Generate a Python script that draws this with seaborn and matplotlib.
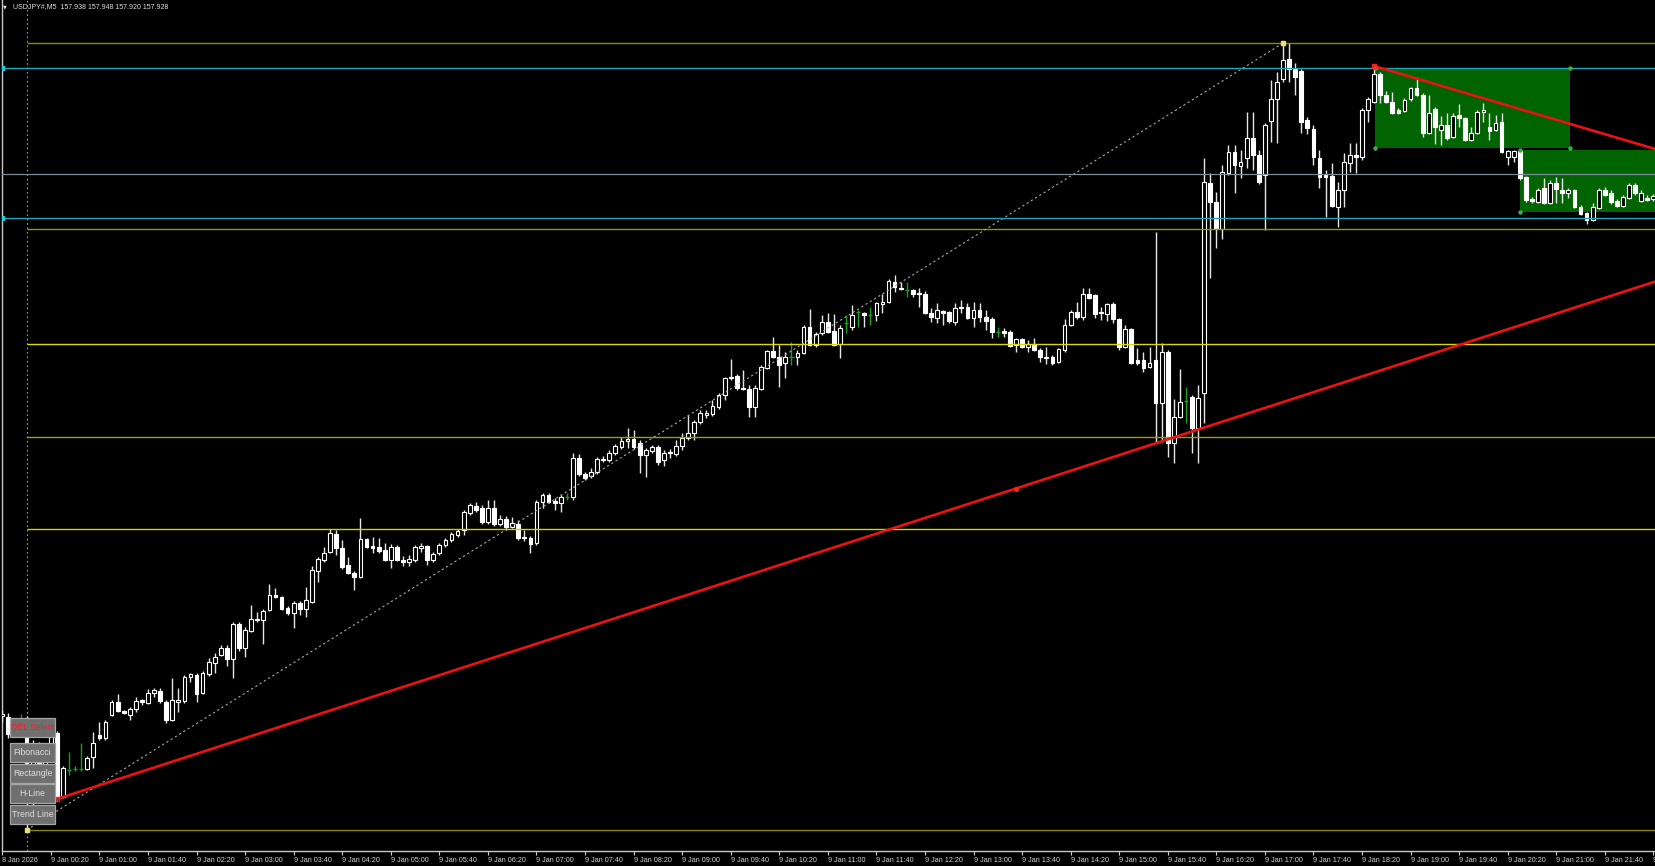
import numpy as np
import pandas as pd
import seaborn as sns
import matplotlib
matplotlib.use('Agg')
from matplotlib import pyplot as plt
from matplotlib.patches import Rectangle

sns.set_style('dark', {'axes.facecolor': 'black', 'figure.facecolor': 'black',
                       'axes.edgecolor': '#c8c8c8', 'text.color': '#d8d8d8',
                       'xtick.color': '#c8c8c8', 'xtick.bottom': True})
plt.rcParams['font.family'] = ['Liberation Sans', 'DejaVu Sans']

# ---- chart data (M5 bars, first bar = 8 Jan 23:40) ----
symbol = 'USDJPY#,M5'
quote = [157.938, 157.948, 157.920, 157.928]
first_time = '2026-01-08 23:40'
first_bar = -4

opens = [156.843, 156.841, 156.809, 156.837, 156.835, 156.695, 156.785, 156.735, 156.775, 156.809,
         156.681, 156.735, 156.737, 156.737, 156.737, 156.761, 156.805, 156.799, 156.845, 156.871,
         156.853, 156.845, 156.857, 156.875, 156.869, 156.889, 156.893, 156.871, 156.835, 156.871,
         156.873, 156.921, 156.925, 156.889, 156.927, 156.949, 156.965, 156.979, 156.957, 157.027,
         156.979, 157.013, 157.035, 157.035, 157.055, 157.085, 157.081, 157.059, 157.049, 157.069,
         157.057, 157.071, 157.133, 157.155, 157.171, 157.207, 157.179, 157.145, 157.129, 157.121,
         157.197, 157.183, 157.181, 157.175, 157.155, 157.181, 157.155, 157.151, 157.155, 157.179,
         157.183, 157.155, 157.169, 157.185, 157.195, 157.205, 157.215, 157.249, 157.263, 157.259,
         157.231, 157.259, 157.227, 157.237, 157.221, 157.227, 157.201, 157.199, 157.189, 157.271,
         157.285, 157.273, 157.269, 157.281, 157.281, 157.359, 157.327, 157.323, 157.331, 157.355,
         157.355, 157.369, 157.381, 157.393, 157.397, 157.389, 157.365, 157.373, 157.381, 157.355,
         157.371, 157.367, 157.383, 157.399, 157.409, 157.431, 157.445, 157.447, 157.461, 157.485,
         157.519, 157.523, 157.499, 157.497, 157.461, 157.497, 157.539, 157.573, 157.561, 157.549,
         157.561, 157.561, 157.569, 157.621, 157.585, 157.609, 157.631, 157.613, 157.587, 157.629,
         157.621, 157.651, 157.649, 157.645, 157.645, 157.667, 157.671, 157.711, 157.699, 157.695,
         157.695, 157.689, 157.687, 157.649, 157.639, 157.653, 157.651, 157.631, 157.661, 157.661,
         157.639, 157.655, 157.641, 157.637, 157.611, 157.613, 157.611, 157.585, 157.597, 157.581,
         157.587, 157.575, 157.561, 157.561, 157.551, 157.575, 157.625, 157.651, 157.641, 157.687,
         157.685, 157.651, 157.647, 157.667, 157.637, 157.581, 157.617, 157.555, 157.555, 157.541,
         157.555, 157.469, 157.571, 157.389, 157.441, 157.473, 157.481, 157.419, 157.489, 157.909,
         157.871, 157.817, 157.929, 157.971, 157.943, 157.959, 157.999, 157.965, 157.925, 158.033,
         158.077, 158.117, 158.157, 158.137, 158.133, 158.035, 158.017, 157.959, 157.925, 157.923,
         157.861, 157.895, 157.949, 157.965, 157.961, 158.055, 158.071, 158.127, 158.085, 158.071,
         158.055, 158.053, 158.077, 158.099, 158.085, 158.009, 158.057, 158.015, 158.025, 158.001,
         158.045, 158.039, 157.995, 158.009, 158.051, 158.021, 158.015, 158.031, 157.961, 157.961,
         157.973, 157.921, 157.877, 157.871, 157.899, 157.869, 157.909, 157.895, 157.889, 157.895,
         157.861, 157.849, 157.835, 157.859, 157.895, 157.889, 157.873, 157.863, 157.879, 157.905,
         157.873, 157.879, 157.877]

highs = [156.855, 156.849, 156.839, 156.847, 156.843, 156.795, 156.791, 156.779, 156.819, 156.813,
         156.743, 156.771, 156.743, 156.789, 156.763, 156.811, 156.831, 156.835, 156.875, 156.887,
         156.855, 156.861, 156.881, 156.877, 156.897, 156.899, 156.899, 156.875, 156.919, 156.899,
         156.925, 156.929, 156.929, 156.933, 156.959, 156.969, 156.985, 156.985, 157.031, 157.031,
         157.021, 157.065, 157.051, 157.057, 157.107, 157.099, 157.083, 157.063, 157.073, 157.073,
         157.101, 157.143, 157.161, 157.181, 157.217, 157.215, 157.195, 157.161, 157.133, 157.239,
         157.199, 157.201, 157.199, 157.189, 157.187, 157.185, 157.163, 157.165, 157.185, 157.189,
         157.185, 157.171, 157.189, 157.199, 157.211, 157.217, 157.255, 157.269, 157.271, 157.265,
         157.275, 157.275, 157.245, 157.243, 157.241, 157.235, 157.215, 157.203, 157.275, 157.289,
         157.289, 157.279, 157.285, 157.289, 157.369, 157.367, 157.331, 157.339, 157.361, 157.363,
         157.375, 157.387, 157.401, 157.419, 157.415, 157.395, 157.379, 157.385, 157.385, 157.375,
         157.377, 157.395, 157.409, 157.445, 157.435, 157.455, 157.455, 157.475, 157.489, 157.521,
         157.557, 157.527, 157.535, 157.505, 157.505, 157.545, 157.575, 157.601, 157.585, 157.571,
         157.591, 157.575, 157.625, 157.657, 157.611, 157.645, 157.649, 157.647, 157.625, 157.645,
         157.665, 157.655, 157.651, 157.661, 157.671, 157.687, 157.717, 157.725, 157.711, 157.711,
         157.697, 157.699, 157.693, 157.659, 157.669, 157.655, 157.653, 157.669, 157.675, 157.669,
         157.671, 157.669, 157.655, 157.641, 157.621, 157.619, 157.615, 157.599, 157.599, 157.595,
         157.599, 157.579, 157.581, 157.565, 157.579, 157.637, 157.655, 157.671, 157.699, 157.699,
         157.687, 157.661, 157.669, 157.671, 157.639, 157.625, 157.619, 157.579, 157.571, 157.581,
         157.811, 157.589, 157.575, 157.477, 157.537, 157.501, 157.485, 157.505, 157.959, 157.929,
         157.891, 157.945, 157.985, 157.985, 157.975, 158.051, 158.051, 157.975, 158.029, 158.115,
         158.131, 158.189, 158.189, 158.149, 158.137, 158.041, 158.025, 157.975, 157.935, 157.949,
         157.911, 157.969, 157.989, 157.989, 158.059, 158.081, 158.143, 158.131, 158.093, 158.091,
         158.059, 158.079, 158.101, 158.121, 158.089, 158.085, 158.061, 158.043, 158.049, 158.049,
         158.067, 158.041, 158.021, 158.055, 158.069, 158.049, 158.045, 158.049, 157.975, 157.975,
         157.975, 157.923, 157.881, 157.899, 157.919, 157.915, 157.921, 157.919, 157.899, 157.897,
         157.865, 157.851, 157.869, 157.899, 157.901, 157.895, 157.877, 157.885, 157.909, 157.909,
         157.895, 157.885, 157.887]

lows = [156.831, 156.799, 156.803, 156.827, 156.615, 156.665, 156.705, 156.699, 156.771, 156.675,
        156.679, 156.725, 156.733, 156.733, 156.735, 156.739, 156.795, 156.795, 156.843, 156.851,
        156.847, 156.835, 156.851, 156.865, 156.867, 156.881, 156.869, 156.829, 156.833, 156.851,
        156.869, 156.911, 156.871, 156.887, 156.923, 156.929, 156.963, 156.943, 156.919, 156.973,
        156.961, 157.011, 157.031, 156.987, 157.053, 157.079, 157.055, 157.045, 157.019, 157.045,
        157.041, 157.069, 157.111, 157.151, 157.169, 157.165, 157.137, 157.127, 157.095, 157.119,
        157.179, 157.169, 157.169, 157.153, 157.139, 157.153, 157.143, 157.143, 157.151, 157.171,
        157.145, 157.151, 157.165, 157.181, 157.191, 157.201, 157.205, 157.245, 157.251, 157.227,
        157.227, 157.223, 157.223, 157.215, 157.219, 157.195, 157.193, 157.169, 157.185, 157.259,
        157.269, 157.255, 157.251, 157.275, 157.275, 157.323, 157.315, 157.319, 157.327, 157.351,
        157.351, 157.365, 157.377, 157.379, 157.377, 157.329, 157.321, 157.369, 157.345, 157.343,
        157.359, 157.363, 157.375, 157.395, 157.395, 157.427, 157.439, 157.443, 157.457, 157.475,
        157.515, 157.495, 157.495, 157.441, 157.441, 157.495, 157.537, 157.559, 157.501, 157.519,
        157.545, 157.545, 157.567, 157.583, 157.581, 157.605, 157.609, 157.583, 157.559, 157.609,
        157.615, 157.621, 157.621, 157.625, 157.633, 157.649, 157.669, 157.691, 157.695, 157.681,
        157.681, 157.661, 157.647, 157.631, 157.629, 157.625, 157.629, 157.625, 157.649, 157.637,
        157.621, 157.631, 157.615, 157.599, 157.601, 157.601, 157.581, 157.571, 157.579, 157.571,
        157.573, 157.551, 157.547, 157.545, 157.549, 157.571, 157.623, 157.637, 157.635, 157.677,
        157.639, 157.635, 157.633, 157.629, 157.575, 157.579, 157.547, 157.545, 157.531, 157.539,
        157.391, 157.391, 157.361, 157.349, 157.439, 157.429, 157.369, 157.349, 157.429, 157.719,
        157.779, 157.797, 157.925, 157.889, 157.919, 157.939, 157.935, 157.907, 157.815, 157.991,
        157.989, 158.111, 158.111, 158.085, 158.009, 158.007, 157.945, 157.899, 157.841, 157.861,
        157.821, 157.861, 157.931, 157.929, 157.955, 158.031, 158.069, 158.069, 158.069, 158.047,
        158.047, 158.051, 158.073, 158.083, 158.001, 158.007, 157.987, 157.985, 157.995, 157.999,
        158.021, 157.993, 157.993, 158.007, 158.031, 157.995, 158.013, 157.969, 157.945, 157.951,
        157.915, 157.871, 157.869, 157.869, 157.867, 157.867, 157.869, 157.869, 157.879, 157.859,
        157.845, 157.827, 157.833, 157.857, 157.883, 157.867, 157.861, 157.861, 157.877, 157.885,
        157.871, 157.873, 157.873]

closes = [156.847, 156.807, 156.831, 156.837, 156.695, 156.785, 156.735, 156.775, 156.809, 156.681,
          156.739, 156.735, 156.737, 156.737, 156.759, 156.789, 156.799, 156.831, 156.871, 156.853,
          156.849, 156.857, 156.873, 156.871, 156.889, 156.895, 156.873, 156.835, 156.875, 156.875,
          156.921, 156.927, 156.887, 156.929, 156.951, 156.961, 156.979, 156.957, 157.027, 156.979,
          157.015, 157.037, 157.037, 157.053, 157.085, 157.081, 157.057, 157.049, 157.069, 157.057,
          157.075, 157.135, 157.157, 157.169, 157.209, 157.179, 157.141, 157.129, 157.121, 157.197,
          157.181, 157.179, 157.173, 157.155, 157.181, 157.155, 157.151, 157.157, 157.181, 157.183,
          157.155, 157.167, 157.185, 157.195, 157.207, 157.213, 157.251, 157.265, 157.255, 157.231,
          157.259, 157.227, 157.237, 157.221, 157.229, 157.199, 157.199, 157.187, 157.271, 157.285,
          157.271, 157.269, 157.281, 157.281, 157.359, 157.327, 157.319, 157.331, 157.357, 157.357,
          157.369, 157.383, 157.393, 157.397, 157.381, 157.365, 157.375, 157.381, 157.351, 157.369,
          157.369, 157.383, 157.399, 157.409, 157.431, 157.449, 157.449, 157.463, 157.485, 157.519,
          157.521, 157.499, 157.497, 157.461, 157.499, 157.541, 157.573, 157.561, 157.545, 157.561,
          157.561, 157.569, 157.621, 157.585, 157.607, 157.631, 157.611, 157.585, 157.619, 157.629,
          157.645, 157.651, 157.645, 157.645, 157.669, 157.671, 157.713, 157.701, 157.697, 157.695,
          157.687, 157.687, 157.649, 157.641, 157.655, 157.649, 157.633, 157.659, 157.659, 157.639,
          157.655, 157.641, 157.633, 157.611, 157.611, 157.609, 157.583, 157.597, 157.581, 157.587,
          157.575, 157.561, 157.559, 157.549, 157.577, 157.625, 157.651, 157.641, 157.687, 157.679,
          157.647, 157.649, 157.667, 157.637, 157.581, 157.617, 157.549, 157.549, 157.539, 157.549,
          157.469, 157.571, 157.389, 157.441, 157.471, 157.473, 157.419, 157.479, 157.911, 157.871,
          157.817, 157.931, 157.971, 157.945, 157.951, 157.999, 157.965, 157.911, 158.025, 158.077,
          158.111, 158.155, 158.137, 158.121, 158.031, 158.019, 157.961, 157.921, 157.921, 157.863,
          157.895, 157.951, 157.965, 157.961, 158.055, 158.077, 158.127, 158.085, 158.071, 158.049,
          158.049, 158.075, 158.099, 158.085, 158.009, 158.049, 158.021, 158.025, 157.999, 158.043,
          158.039, 157.995, 158.009, 158.051, 158.055, 158.013, 158.029, 157.971, 157.973, 157.973,
          157.919, 157.875, 157.873, 157.895, 157.869, 157.909, 157.897, 157.889, 157.895, 157.861,
          157.847, 157.835, 157.861, 157.895, 157.885, 157.871, 157.863, 157.881, 157.905, 157.889,
          157.889, 157.875, 157.883]

# drawn objects
fib_bars = [0, 207]
fib_ratios = [0.0, 0.382, 0.5, 0.618, 0.764, 1.0]
fib_colors = ['#858500', '#d2d200', '#a29a00', '#dada00', '#959500', '#8a8a00']
cyan_prices = [158.140, 157.840]
bid_price = 157.928
trend_up_bars = [5, 321]
trend_up_prices = [156.677, 157.919]
trend_dn_bars = [222, 268]
trend_dn_prices = [158.143, 157.978]
rect_bars = [(222.1, 254.2), (246.0, 300.0)]
rect_prices = [(157.980, 158.140), (157.852, 157.975)]
buttons = ['DEL Select', 'Fibonacci', 'Rectangle', 'H-Line', 'Trend Line']

# ---- frame ----
W, H = 1655, 866
bar_px = 6.07
price_px = 500.0
fig = plt.figure(figsize=(W / 100, H / 100), dpi=100)
ax = fig.add_axes([2 / W, 15 / H, 1653 / W, 851 / H])
x_left = first_bar - 0.05
x_right = x_left + 1653 / bar_px
y_top = 158.275
ax.set_xlim(x_left, x_right)
ax.set_ylim(y_top - 851 / price_px, y_top)
ax.grid(False)

df = pd.DataFrame({'open': opens, 'high': highs, 'low': lows, 'close': closes})
df['bar'] = np.arange(first_bar, first_bar + len(df))
df['time'] = pd.date_range(first_time, periods=len(df), freq='5min')
up = df[df.close > df.open]
down = df[df.close < df.open]
doji = df[df.close == df.open]
body = df[df.close != df.open]

# rectangles behind the bars
for (b0, b1), (p0, p1) in zip(rect_bars, rect_prices):
    ax.add_patch(Rectangle((b0, p0), b1 - b0, p1 - p0, facecolor='#006400',
                           edgecolor='none', zorder=1))
    ax.plot([b0, b0, b1, b1], [p0, p1, p0, p1], ls='none', marker='o', ms=2.2,
            color='#3cb043', zorder=7)

# candles
ax.vlines(body.bar, body.low, body.high, color='#e6e6e6', lw=1, zorder=3)
ax.bar(up.bar, up.close - up.open, bottom=up.open, width=0.62,
       facecolor='black', edgecolor='white', lw=0.8, zorder=4)
ax.bar(down.bar, down.close - down.open, bottom=down.open, width=0.62,
       facecolor='white', edgecolor='white', lw=0.8, zorder=4)
ax.vlines(doji.bar, doji.low, doji.high, color='#19a019', lw=1, zorder=3)
ax.hlines(doji.close, doji.bar - 0.35, doji.bar + 0.35, color='#19a019', lw=1, zorder=3)

# period separator
ax.axvline(0, color='#9a9a9a', ls=(0, (1.5, 2.5)), lw=0.8, zorder=2)

# fibonacci
fib_lo = df.loc[df.bar == fib_bars[0], 'low'].iloc[0]
fib_hi = df.loc[df.bar == fib_bars[1], 'high'].iloc[0]
for r, c in zip(fib_ratios, fib_colors):
    ax.hlines(fib_lo + r * (fib_hi - fib_lo), fib_bars[0], x_right, color=c, lw=1, zorder=5)
sns.lineplot(x=fib_bars, y=[fib_lo, fib_hi], ax=ax, color='#a8a8a8',
             lw=0.8, linestyle=(0, (2, 2.5)), zorder=5)
ax.plot(fib_bars, [fib_lo, fib_hi], ls='none', marker='s', ms=2.2, color='#e8e070', zorder=7)

# horizontal lines
for p in cyan_prices:
    ax.axhline(p, color='#1aa6b8', lw=1, zorder=5)
    ax.plot(first_bar, p, marker='s', ms=2.2, color='#30c8d8', zorder=7)
ax.axhline(bid_price, color='#7d8a99', lw=0.9, zorder=5)


def ray(bars, prices, end):
    slope = (prices[1] - prices[0]) / (bars[1] - bars[0])
    return [bars[0], end], [prices[0], prices[0] + slope * (end - bars[0])]


for bb, pp in [(trend_up_bars, trend_up_prices), (trend_dn_bars, trend_dn_prices)]:
    rx, ry = ray(bb, pp, x_right + 5)
    sns.lineplot(x=rx, y=ry, ax=ax, color='#ee1111', lw=1.9, zorder=6)
    ax.plot(bb[0], pp[0], marker='s', ms=3.2, mfc='none', mec='#ff2020', mew=1, zorder=7)
ax.plot(np.mean(trend_up_bars), np.mean(trend_up_prices), marker='o', ms=2.6,
        color='#ff2020', zorder=7)

# axes dressing
for s in ['top', 'right']:
    ax.spines[s].set_visible(False)
for s in ['left', 'bottom']:
    ax.spines[s].set_color('#c8c8c8')
    ax.spines[s].set_linewidth(1)
ax.set_yticks([])
ticks = df[(df.bar == first_bar) | ((df.bar - 4) % 8 == 0) & (df.bar > 0)]
labels = ['{} {} {}'.format(t.day, t.strftime('%b'),
                            t.year if b == first_bar else t.strftime('%H:%M'))
          for t, b in zip(ticks.time, ticks.bar)]
ax.set_xticks(ticks.bar)
ax.set_xticklabels(labels, ha='left')
ax.tick_params(axis='x', length=3, width=0.8, pad=1.5, labelsize=5.2, colors='#cfcfcf')
ax.set_xlabel('')
ax.set_ylabel('')

# title
fig.text(3 / W, 1 - 7 / H, '\u25bc', fontsize=3.5, color='#e0e0e0', va='center',
         family=['DejaVu Sans'])
fig.text(13 / W, 1 - 7 / H, symbol + '  ' + ' '.join('{:.3f}'.format(q) for q in quote),
         fontsize=5.0, color='#e0e0e0', va='center', ha='left')

# panel buttons
btn_top = [718, 743, 764, 784, 805]
for name, top in zip(buttons, btn_top):
    fig.patches.append(Rectangle((10 / W, 1 - (top + 19) / H), 45 / W, 19 / H,
                                 transform=fig.transFigure, facecolor='#6f6f6f',
                                 edgecolor='#a6a6a6', lw=0.9, zorder=10))
    fig.text(32.5 / W, 1 - (top + 9.5) / H, name, fontsize=6.3, ha='center', va='center',
             color='#e8242a' if name.startswith('DEL') else '#dedede', zorder=11)

fig.savefig('out.png', dpi=100, facecolor='black')
